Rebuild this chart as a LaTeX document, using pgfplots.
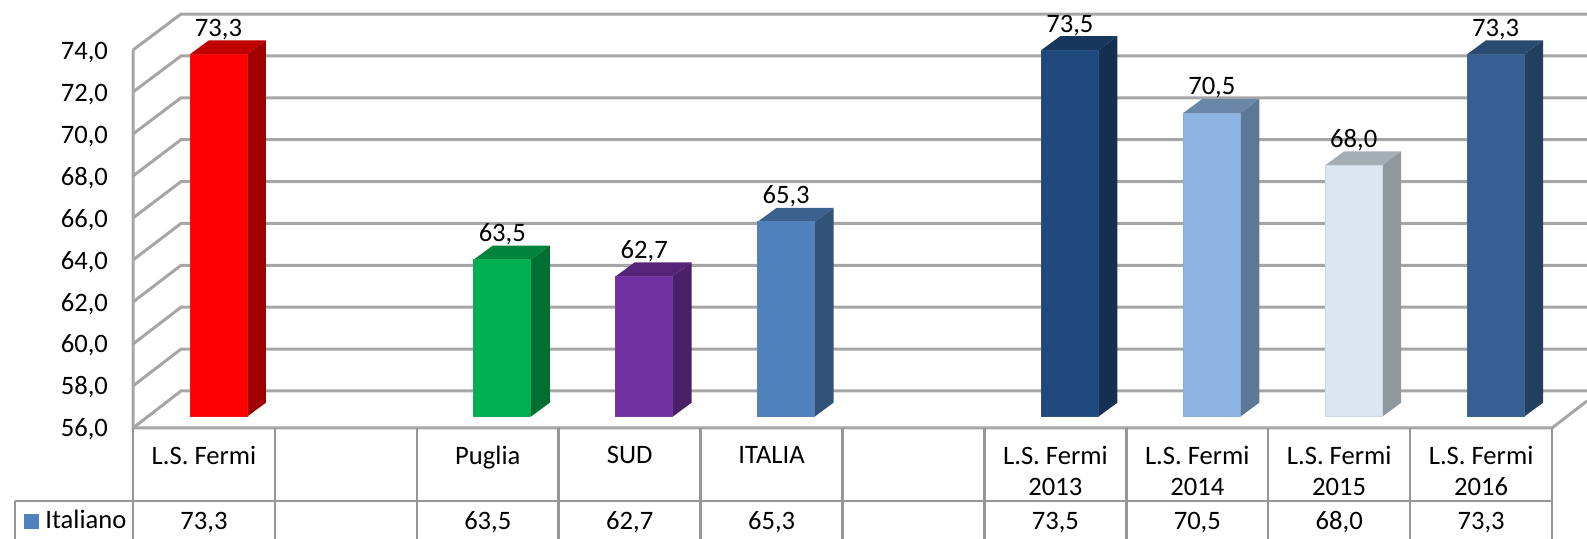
\documentclass[border=0pt]{standalone}
\usepackage{fontspec}
\setmainfont{Carlito}
\usepackage{pgfplots}
\pgfplotsset{compat=1.18}
\pgfkeys{/pgf/number format/.cd,fixed,fixed zerofill,precision=1,use comma,assume math mode=true}
\newcommand{\chartfont}{\fontsize{13.3}{15.6}\selectfont}

% one pseudo-3D column: index, value, front, top, side
\newcommand{\tdbar}[5]{%
  \pgfmathsetmacro{\xa}{#1-0.2008}%
  \pgfmathsetmacro{\xb}{#1+0.2008}%
  \pgfmathsetmacro{\xc}{#1+0.2008+0.1339}%
  \pgfmathsetmacro{\xd}{#1-0.2008+0.1339}%
  \pgfmathsetmacro{\yt}{#2+0.668}%
  \pgfmathsetmacro{\xt}{#1-0.1022}%
  \edef\temp{%
    \noexpand\addplot[fill=#5,draw=none] coordinates {(\xb,56) (\xc,56.668) (\xc,\yt) (\xb,#2)} -- cycle;
    \noexpand\addplot[fill=#4,draw=none] coordinates {(\xa,#2) (\xd,\yt) (\xc,\yt) (\xb,#2)} -- cycle;
    \noexpand\addplot[fill=#3,draw=#3!85!gray,line width=0.4pt] coordinates {(\xa,56) (\xb,56) (\xb,#2) (\xa,#2)} -- cycle;
    \noexpand\node[anchor=base,yshift=9pt,inner sep=0pt] at (axis cs:#1,#2) {\noexpand\pgfmathprintnumber{#2}};
    \noexpand\node[anchor=base,inner sep=0pt] at (axis cs:\xt,50.6) {\noexpand\pgfmathprintnumber{#2}};
  }\temp}

\definecolor{cRed}{HTML}{FF0000}\definecolor{cRedT}{HTML}{C00000}\definecolor{cRedS}{HTML}{A00000}
\definecolor{cGrn}{HTML}{00B050}\definecolor{cGrnT}{HTML}{00843C}\definecolor{cGrnS}{HTML}{007030}
\definecolor{cPur}{HTML}{7030A0}\definecolor{cPurT}{HTML}{542478}\definecolor{cPurS}{HTML}{4A2069}
\definecolor{cBlu}{HTML}{4F81BD}\definecolor{cBluT}{HTML}{3B618E}\definecolor{cBluS}{HTML}{335278}
\definecolor{cDrk}{HTML}{1F497D}\definecolor{cDrkT}{HTML}{17375E}\definecolor{cDrkS}{HTML}{152F50}
\definecolor{cLgt}{HTML}{8DB4E2}\definecolor{cLgtT}{HTML}{6A87AA}\definecolor{cLgtS}{HTML}{5F7796}
\definecolor{cPal}{HTML}{DCE6F1}\definecolor{cPalT}{HTML}{A5ADB5}\definecolor{cPalS}{HTML}{8F979F}
\definecolor{cMid}{HTML}{366092}\definecolor{cMidT}{HTML}{2A4A70}\definecolor{cMidS}{HTML}{223F60}
\definecolor{gridc}{HTML}{A6A6A6}
\definecolor{tabc}{HTML}{969696}

\begin{document}
\begin{tikzpicture}
\path[use as bounding box] (-66.5pt,0pt) rectangle (727pt,269.5pt);
% wall, floor and table rules, in reference pixels
\begin{scope}[x=0.5pt,y=-0.5pt,shift={(-66.5pt,269.5pt)}]
  \foreach \v in {0,2,...,18} {
    \pgfmathsetmacro{\fy}{428-\v*21}
    \pgfmathsetmacro{\by}{391-\v*20.94}
    \draw[gridc,line width=1.5pt] (133,\fy) -- (181,\by) -- (1587,\by);
  }
  \draw[gridc,line width=1.5pt] (133,50) -- (133,428) -- (1552,428) -- (1587,401);
  \foreach \k in {0,...,10} {
    \pgfmathsetmacro{\tx}{133+\k*141.9}
    \draw[tabc,line width=1.25pt] (\tx,428) -- (\tx,539);
  }
  \draw[tabc,line width=1.25pt] (15,501) -- (1552,501);
  \draw[tabc,line width=1.25pt] (15,501) -- (15,539);
  \fill[cBlu] (24,514) rectangle (39,529);
  \node[anchor=base west,inner sep=0pt,font=\chartfont] at (45,529) {Italiano};
\end{scope}
\begin{axis}[
    scale only axis,
    width=727pt, height=269.5pt,
    xmin=-0.6025, xmax=9.644,
    ymin=50.16, ymax=75.89,
    axis line style={draw=none},
    tick style={draw=none},
    ytick={56,58,...,74},
    xtick={-0.1022,1.8978,2.8978,3.8978,5.8978,6.8978,7.8978,8.8978},
    xticklabels={L.S. Fermi,Puglia,SUD,ITALIA,{L.S. Fermi\\2013},{L.S. Fermi\\2014},{L.S. Fermi\\2015},{L.S. Fermi\\2016}},
    x tick label style={align=center,anchor=north,yshift=50pt,font=\chartfont},
    y tick label style={xshift=-9pt,yshift=-6.4pt,font=\chartfont},
    /pgf/number format/.cd,fixed,fixed zerofill,precision=1,use comma,assume math mode=true,
    /tikz/every node/.append style={font=\chartfont},
]
\tdbar{0}{73.3}{cRed}{cRedT}{cRedS}
\tdbar{2}{63.5}{cGrn}{cGrnT}{cGrnS}
\tdbar{3}{62.7}{cPur}{cPurT}{cPurS}
\tdbar{4}{65.3}{cBlu}{cBluT}{cBluS}
\tdbar{6}{73.5}{cDrk}{cDrkT}{cDrkS}
\tdbar{7}{70.5}{cLgt}{cLgtT}{cLgtS}
\tdbar{8}{68.0}{cPal}{cPalT}{cPalS}
\tdbar{9}{73.3}{cMid}{cMidT}{cMidS}
\end{axis}
\end{tikzpicture}
\end{document}
